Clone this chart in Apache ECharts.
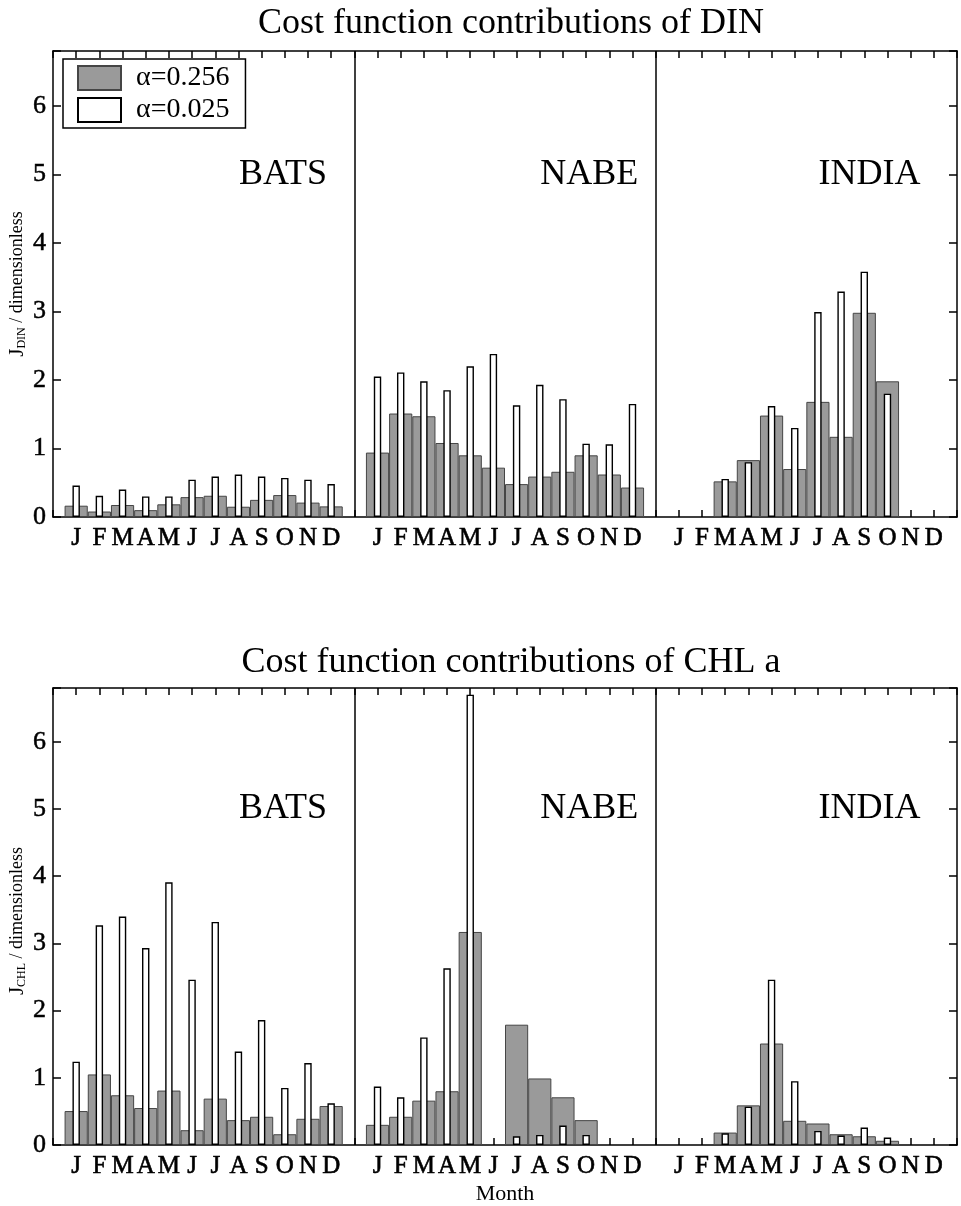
<!DOCTYPE html>
<html>
<head>
<meta charset="utf-8">
<script src="https://cdn.jsdelivr.net/npm/echarts@6/dist/echarts.min.js"></script>
<style>
  html, body { margin: 0; background: #fff; }
  #chart { width: 961px; height: 1206px; }
</style>
</head>
<body>
<div id="chart"></div>
<script>
const MONTHS = ["J", "F", "M", "A", "M", "J", "J", "A", "S", "O", "N", "D"];
const SITES = ["BATS", "NABE", "INDIA"];
const ALPHAS = ["α=0.256", "α=0.025"];
const Y_TICKS = [0, 1, 2, 3, 4, 5, 6];

// DIN contributions, grey = alpha 0.256, white = alpha 0.025 (null = no data)
const DIN_BATS_GREY = [0.165, 0.08, 0.175, 0.1, 0.185, 0.29, 0.31, 0.15, 0.25, 0.32, 0.21, 0.155];
const DIN_BATS_WHITE = [0.46, 0.31, 0.4, 0.3, 0.3, 0.545, 0.59, 0.62, 0.59, 0.57, 0.545, 0.48];
const DIN_NABE_GREY = [0.94, 1.51, 1.47, 1.08, 0.9, 0.72, 0.48, 0.59, 0.66, 0.9, 0.62, 0.43];
const DIN_NABE_WHITE = [2.05, 2.11, 1.98, 1.85, 2.2, 2.38, 1.63, 1.93, 1.72, 1.07, 1.06, 1.65];
const DIN_INDIA_GREY = [null, null, 0.52, 0.83, 1.48, 0.7, 1.68, 1.17, 2.98, 1.98, null, null];
const DIN_INDIA_WHITE = [null, null, 0.555, 0.8, 1.62, 1.3, 2.99, 3.29, 3.58, 1.8, null, null];

// CHL a contributions
const CHL_BATS_GREY = [0.505, 1.05, 0.74, 0.55, 0.81, 0.22, 0.69, 0.37, 0.42, 0.16, 0.39, 0.58];
const CHL_BATS_WHITE = [1.24, 3.27, 3.4, 2.93, 3.91, 2.46, 3.32, 1.39, 1.86, 0.85, 1.22, 0.62];
const CHL_NABE_GREY = [0.3, 0.42, 0.66, 0.8, 3.17, null, 1.79, 0.99, 0.71, 0.37, null, null];
const CHL_NABE_WHITE = [0.87, 0.71, 1.6, 2.63, 6.7, null, 0.13, 0.15, 0.29, 0.15, null, null];
const CHL_INDIA_GREY = [null, null, 0.185, 0.59, 1.51, 0.36, 0.32, 0.16, 0.13, 0.063, null, null];
const CHL_INDIA_WHITE = [null, null, 0.175, 0.57, 2.46, 0.95, 0.21, 0.14, 0.26, 0.11, null, null];

const FONT = "'Liberation Serif', 'DejaVu Serif', serif";
const GREY = "#9a9a9a";
const SLOTS = 13; // 12 months + one empty slot between sites
const SITE_LABEL_X = [8.0, 21.0, 33.0]; // left edge of the site names, in month slots

// month i of site s sits at x = s * 13 + i + 1
function points(values, site) {
  return values
    .map((v, i) => (v == null ? null : [site * SLOTS + i + 1, v]))
    .filter(Boolean);
}

function monthLabel(v) {
  const k = Math.round(v) % SLOTS;
  return k >= 1 ? MONTHS[k - 1] : "";
}

function xAxisFor(gridIndex, position, name) {
  const bottom = position === "bottom";
  return {
    type: "value",
    gridIndex,
    position,
    min: 0,
    max: SLOTS * 3,
    interval: 1,
    name: name || "",
    nameLocation: "middle",
    nameGap: 38,
    nameTextStyle: { fontFamily: FONT, fontSize: 22, color: "#000" },
    axisLine: { show: true, onZero: false, lineStyle: { color: "#000", width: 1.5 } },
    axisTick: { show: true, inside: true, length: 7, lineStyle: { color: "#000", width: 1.5 } },
    axisLabel: {
      show: bottom,
      margin: 9,
      fontFamily: FONT,
      fontSize: 25,
      color: "#000",
      textBorderColor: "#000",
      textBorderWidth: 0.6,
      formatter: monthLabel,
    },
    splitLine: { show: false },
  };
}

function yAxisFor(gridIndex, position) {
  const left = position === "left";
  return {
    type: "value",
    gridIndex,
    position,
    min: 0,
    max: 6.8,
    interval: 1,
    axisLine: { show: true, onZero: false, lineStyle: { color: "#000", width: 1.5 } },
    axisTick: { show: true, inside: true, length: 8, lineStyle: { color: "#000", width: 1.5 } },
    axisLabel: {
      show: left,
      margin: 7,
      fontFamily: FONT,
      fontSize: 26,
      color: "#000",
      textBorderColor: "#000",
      textBorderWidth: 0.5,
      formatter: (v) => (Y_TICKS.includes(v) ? String(v) : ""),
    },
    splitLine: { show: false },
  };
}

function barPair(xTop, xBottom, yIndex, grey, white) {
  return [
    {
      type: "bar",
      name: ALPHAS[0],
      xAxisIndex: xBottom,
      yAxisIndex: yIndex,
      barWidth: "100%",
      data: grey.flatMap((vals, s) => points(vals, s)),
      itemStyle: { color: GREY, borderColor: "#454545", borderWidth: 1 },
      markLine: {
        silent: true,
        symbol: "none",
        label: { show: false },
        lineStyle: { color: "#000", width: 1.5, type: "solid" },
        data: [{ xAxis: SLOTS }, { xAxis: SLOTS * 2 }],
      },
    },
    {
      type: "bar",
      name: ALPHAS[1],
      xAxisIndex: xTop,
      yAxisIndex: yIndex,
      barWidth: "32%",
      data: white.flatMap((vals, s) => points(vals, s)),
      itemStyle: { color: "#fff", borderColor: "#000", borderWidth: 1.4 },
    },
    {
      type: "scatter",
      xAxisIndex: xBottom,
      yAxisIndex: yIndex,
      silent: true,
      symbolSize: 1,
      itemStyle: { color: "rgba(0,0,0,0)", opacity: 1 },
      data: SITES.map((s, i) => ({ name: s, value: [SITE_LABEL_X[i], 5] })),
      label: {
        show: true,
        position: "right",
        distance: 0,
        formatter: "{b}",
        fontFamily: FONT,
        fontSize: 36,
        color: "#000",
        opacity: 1,
      },
    },
  ];
}

function yName(sub, y) {
  return {
    type: "text",
    x: 17,
    y,
    rotation: Math.PI / 2,
    style: {
      text: "{j|J}{s|" + sub + "}{t| / dimensionless}",
      align: "center",
      verticalAlign: "middle",
      rich: {
        j: { fontFamily: FONT, fontSize: 21, fill: "#000" },
        s: { fontFamily: FONT, fontSize: 12, fill: "#000", verticalAlign: "bottom" },
        t: { fontFamily: FONT, fontSize: 18, fill: "#000" },
      },
    },
  };
}

const chart = echarts.init(document.getElementById("chart"), null, { renderer: "canvas" });

chart.setOption({
  animation: false,
  backgroundColor: "#fff",
  title: [
    {
      text: "Cost function contributions of DIN",
      left: 506,
      top: 1,
      textAlign: "center",
      textStyle: { fontFamily: FONT, fontSize: 36, fontWeight: "normal", color: "#000" },
    },
    {
      text: "Cost function contributions of CHL a",
      left: 506,
      top: 640,
      textAlign: "center",
      textStyle: { fontFamily: FONT, fontSize: 36, fontWeight: "normal", color: "#000" },
    },
  ],
  legend: {
    data: ALPHAS,
    orient: "vertical",
    left: 63,
    top: 59,
    icon: "rect",
    itemWidth: 43,
    itemHeight: 24,
    itemGap: 4,
    padding: [5, 16, 4, 14],
    borderColor: "#000",
    borderWidth: 1.5,
    backgroundColor: "#fff",
    selectedMode: false,
    textStyle: { fontFamily: FONT, fontSize: 28, lineHeight: 24, color: "#000", padding: [0, 0, 0, 10] },
  },
  grid: [
    { left: 53, top: 51, width: 904, height: 466 },
    { left: 53, top: 688, width: 904, height: 467 },
  ],
  xAxis: [
    xAxisFor(0, "bottom"),
    xAxisFor(0, "top"),
    xAxisFor(1, "bottom", "Month"),
    xAxisFor(1, "top"),
  ],
  yAxis: [yAxisFor(0, "left"), yAxisFor(0, "right"), yAxisFor(1, "left"), yAxisFor(1, "right")],
  graphic: [yName("DIN", 284), yName("CHL", 921)],
  series: [
    ...barPair(1, 0, 0,
      [DIN_BATS_GREY, DIN_NABE_GREY, DIN_INDIA_GREY],
      [DIN_BATS_WHITE, DIN_NABE_WHITE, DIN_INDIA_WHITE]),
    ...barPair(3, 2, 2,
      [CHL_BATS_GREY, CHL_NABE_GREY, CHL_INDIA_GREY],
      [CHL_BATS_WHITE, CHL_NABE_WHITE, CHL_INDIA_WHITE]),
  ],
});
</script>
</body>
</html>
